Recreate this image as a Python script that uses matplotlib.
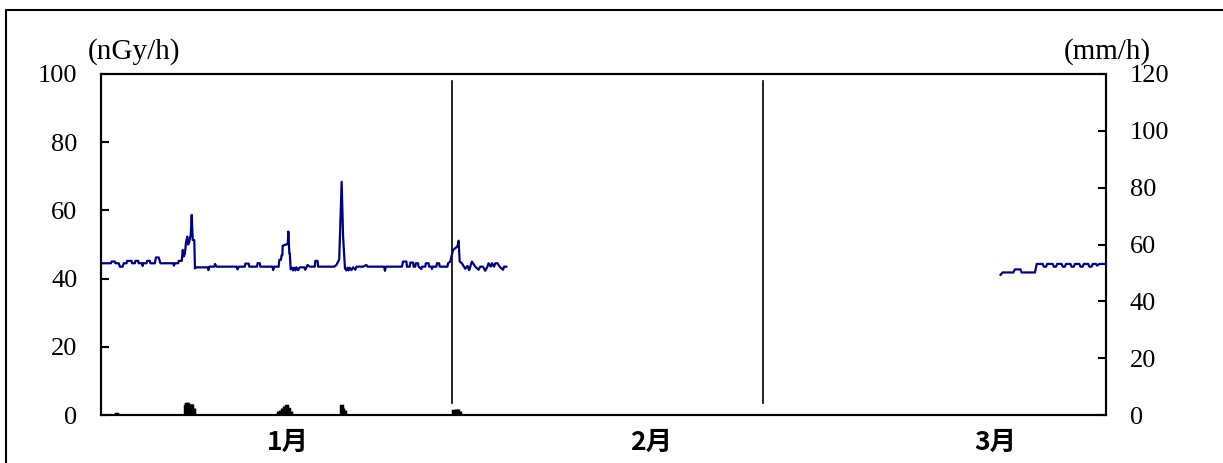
import matplotlib
matplotlib.use("Agg")
import matplotlib.pyplot as plt
from matplotlib.lines import Line2D

# ---------------- data ----------------
# dose rate (nGy/h), time in days from Jan 1
dose_t1 = [0.0, 0.9, 0.95, 1.25, 1.3, 1.6, 1.7, 1.95, 2.05, 2.3, 2.35, 2.75, 2.8, 3.05, 3.1, 3.35, 3.4,
           3.7, 3.75, 3.8, 4.1, 4.15, 4.4, 4.45, 4.85, 4.95, 5.2, 5.35, 6.5, 6.57, 6.65, 6.95, 7.0, 7.27,
           7.36, 7.45, 7.56, 7.65, 7.77, 7.85, 7.95, 8.02, 8.08, 8.17, 8.26, 8.4, 8.46, 8.6,
           9.6, 9.67, 9.75, 10.2, 10.27, 10.4, 12.2, 12.3, 12.4, 12.95, 13.0, 13.3, 13.35, 14.05, 14.1,
           14.3, 14.35, 15.45, 15.5, 15.6, 16.0, 16.06, 16.2, 16.27, 16.33, 16.36, 16.57, 16.78, 16.82,
           16.87, 16.96, 17.0, 17.08, 17.2, 17.3, 17.4, 17.5, 17.6, 17.75, 17.9, 18.3, 18.4, 18.5, 18.6,
           18.8, 19.25, 19.3, 19.5, 19.55, 21.0, 21.2, 21.45, 21.67, 21.8, 21.97, 22.1, 22.2, 22.3, 22.4,
           22.55, 22.7, 22.9, 23.0, 23.6, 23.9, 24.0, 25.5, 25.57, 25.65, 27.1, 27.2, 27.5, 27.55, 27.8,
           27.85, 28.1, 28.15, 28.3, 28.35, 28.55, 28.6, 28.85, 28.9, 29.2, 29.25, 29.5, 29.55, 29.75,
           29.8, 29.85, 30.2, 30.25, 30.45, 30.5, 31.2, 31.25, 31.45, 31.7, 31.9, 32.1, 32.2, 32.3, 32.5,
           32.8, 33.0, 33.15, 33.4, 33.7, 34.0, 34.15, 34.4, 34.6, 34.8, 34.9, 35.1, 35.2, 35.4, 35.5,
           35.7, 35.9, 36.2, 36.3, 36.5]
dose_v1 = [44.5, 44.5, 45.0, 45.0, 44.5, 44.5, 43.5, 43.5, 44.5, 44.5, 45.2, 45.2, 44.5, 44.5, 45.2, 45.2, 44.5,
           44.5, 43.7, 44.5, 44.5, 45.2, 45.2, 44.5, 44.5, 46.2, 46.2, 44.5, 44.5, 43.8, 44.5, 44.5, 45.2, 45.2,
           48.4, 46.5, 47.4, 50.5, 52.3, 50.0, 50.8, 52.0, 52.8, 58.7, 51.3, 51.3, 43.0, 43.3,
           43.3, 42.5, 43.5, 43.5, 44.3, 43.5, 43.5, 42.7, 43.5, 43.5, 44.4, 44.4, 43.5, 43.5, 44.5,
           44.5, 43.5, 43.5, 42.5, 43.5, 43.5, 45.5, 45.5, 46.9, 46.9, 49.6, 49.9, 50.1, 50.1,
           53.8, 47.4, 47.4, 42.7, 43.2, 42.4, 43.2, 42.4, 43.3, 42.5, 43.3, 43.3, 42.6, 43.3, 44.0,
           43.5, 43.5, 45.2, 45.2, 43.5, 43.5, 44.0, 45.6, 68.4, 52.3, 43.0, 42.4, 43.2, 42.4, 43.2,
           42.5, 43.3, 42.6, 43.5, 43.5, 44.0, 43.5, 43.5, 42.3, 43.5, 43.5, 45.0, 45.0, 43.5, 43.5,
           44.7, 44.7, 43.5, 43.5, 44.5, 44.5, 43.5, 42.8, 43.5, 43.5, 44.5, 44.5, 43.5, 43.5,
           42.8, 43.5, 43.5, 44.5, 44.5, 43.5, 43.5, 44.5, 45.0, 48.4, 48.9, 49.5, 51.1, 45.0, 44.5,
           42.9, 43.7, 42.5, 45.0, 43.5, 42.6, 43.5, 43.5, 42.3, 43.5, 44.5, 43.5, 44.5, 43.5, 44.5,
           44.5, 43.5, 42.6, 43.5, 43.5]

dose_t2 = [81.0, 81.2, 82.15, 82.3, 82.8, 82.9, 84.1, 84.26, 84.8, 84.9, 85.1, 85.2, 85.7, 85.8, 86.0,
           86.1, 86.5, 86.6, 86.8, 86.9, 87.3, 87.4, 87.6, 87.7, 88.1, 88.2, 88.4, 88.5, 88.9, 89.0,
           89.2, 89.3, 89.6, 89.7, 89.9, 90.4]
dose_v2 = [41.1, 41.8, 41.8, 42.7, 42.7, 41.8, 41.8, 44.3, 44.3, 43.5, 43.5, 44.3, 44.3, 43.5, 43.5,
           44.3, 44.3, 43.5, 43.5, 44.3, 44.3, 43.5, 43.5, 44.3, 44.3, 43.5, 43.5, 44.3, 44.3, 43.5,
           43.5, 44.3, 44.3, 43.8, 44.3, 44.3]

# precipitation (mm/h)
rain_t = [1.4, 7.6, 7.7, 7.8, 7.95, 8.1, 8.2, 8.35, 15.95, 16.1, 16.3, 16.5, 16.7, 16.9, 17.1,
          21.65, 21.8, 21.95, 31.75, 31.95, 32.15, 32.35]
rain_v = [0.5, 3.0, 3.9, 3.9, 3.2, 3.9, 3.9, 2.5, 1.5, 1.8, 2.5, 3.2, 3.2, 2.0, 1.5,
          3.3, 2.6, 1.8, 1.5, 2.0, 2.0, 1.5]

month_labels = ["1月", "2月", "3月"]
month_pos = [16.8, 49.5, 80.5]
month_bounds = [31.6, 59.6]

left_ticks = [0, 20, 40, 60, 80, 100]
right_ticks = [0, 20, 40, 60, 80, 100, 120]

# ---------------- figure ----------------
W, H = 1223, 463
fig = plt.figure(figsize=(W / 100, H / 100), dpi=100)
fig.patch.set_facecolor("white")

# outer frame (left and top edges visible only)
fig.add_artist(Line2D([6 / W, 6 / W, 1.0], [0.0, 1 - 10 / H, 1 - 10 / H],
                      transform=fig.transFigure, color="black", linewidth=1.5,
                      solid_capstyle="butt", clip_on=False))

ax = fig.add_axes([101 / W, 48 / H, (1106 - 101) / W, (415 - 74) / H])
ax2 = ax.twinx()

serif = "Liberation Serif"
tick_fs = 19

ax.plot(dose_t1, dose_v1, color="#000080", lw=1.6, zorder=3)
ax.plot(dose_t2, dose_v2, color="#000080", lw=1.6, zorder=3)
for b in month_bounds:
    ax.plot([b, b], [3.5, 98], color="black", lw=1.2, zorder=2)

ax2.bar(rain_t, rain_v, width=0.04, color="black", edgecolor="black", linewidth=2.5, zorder=2)

ax.set_xlim(0, 90.5)
ax.set_ylim(0, 100)
ax2.set_ylim(0, 120)

ax.set_yticks(left_ticks)
ax.set_yticklabels([str(v) for v in left_ticks], fontfamily=serif, fontsize=tick_fs)
ax2.set_yticks(right_ticks)
ax2.set_yticklabels([str(v) for v in right_ticks], fontfamily=serif, fontsize=tick_fs)
ax.tick_params(axis="y", direction="in", length=6, width=1.5, pad=17)
ax2.tick_params(axis="y", direction="in", length=6, width=1.5, pad=17)

ax.set_xticks(month_pos)
ax.set_xticklabels(month_labels, fontfamily=["Noto Sans CJK JP", "DejaVu Sans"],
                   fontweight="bold", fontsize=19)
ax.tick_params(axis="x", length=0, pad=10)

for a in (ax, ax2):
    for s in a.spines.values():
        s.set_linewidth(1.5)

fig.text(134 / W, 1 - 52 / H, "(nGy/h)", fontfamily=serif, fontsize=21, ha="center", va="center")
fig.text(1107 / W, 1 - 52 / H, "(mm/h)", fontfamily=serif, fontsize=21, ha="center", va="center")

fig.savefig("out.png", dpi=100)
